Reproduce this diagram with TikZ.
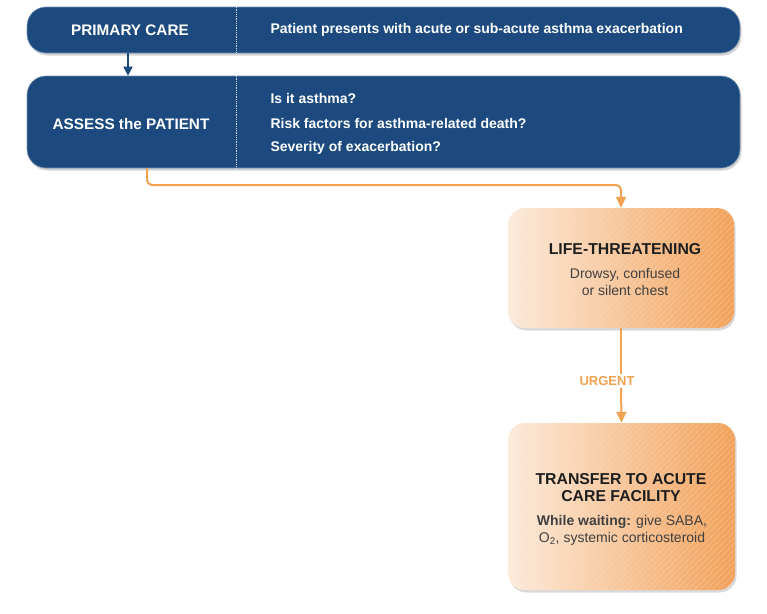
\documentclass[tikz,border=0pt]{standalone}
\usepackage{fontspec}
\setmainfont{Liberation Sans}
\usetikzlibrary{arrows.meta,shadows,patterns.meta}
\definecolor{navy}{HTML}{1D4A7E}
\definecolor{orangeline}{HTML}{F0A250}
\definecolor{orlight}{HTML}{FCEBDC}
\definecolor{ordark}{HTML}{F2A15A}
\definecolor{darktext}{HTML}{1E1E1E}
\tikzset{
  x=1pt,y=-1pt,
  bluebox/.style={rectangle, rounded corners=19pt, fill=navy, inner sep=0pt,
    draw=navy!60!white, line width=0.6pt,
    drop shadow={shadow xshift=1.5pt, shadow yshift=-2.5pt, opacity=0.35, fill=gray}},
  orbox/.style={rectangle, rounded corners=17pt, inner sep=0pt,
    left color=orlight, right color=ordark,
    drop shadow={shadow xshift=1.5pt, shadow yshift=-2.5pt, opacity=0.3, fill=gray},
    postaction={pattern={Lines[angle=45,distance=4pt,line width=0.7pt]}, pattern color=white!80!orange, opacity=0.35}},
  divider/.style={white!80!navy, densely dotted, line width=0.8pt},
  whitehead/.style={font=\bfseries\fontsize{15.3}{17}\selectfont, text=white},
  whitetext/.style={font=\bfseries\fontsize{14}{16}\selectfont, text=white, anchor=west},
  blackhead/.style={font=\bfseries\fontsize{15.8}{17}\selectfont, text=darktext, align=center},
  greytext/.style={font=\fontsize{14}{17}\selectfont, text=darktext!85, align=center},
  bluearrow/.style={draw=navy, line width=1.8pt, -{Triangle[width=9pt,length=9pt]}},
  orline/.style={draw=orangeline, line width=2pt},
  orarrow/.style={orline, -{Triangle[width=10pt,length=11pt]}},
}
\begin{document}
\begin{tikzpicture}
\useasboundingbox (0,0) rectangle (767,613);
% boxes
\node[bluebox, minimum width=713pt, minimum height=46pt] (primary) at (383.5,30) {};
\node[bluebox, minimum width=713pt, minimum height=92pt] (assess) at (383.5,122) {};
\node[orbox, minimum width=226pt, minimum height=120pt] (life) at (621,268) {};
\node[orbox, minimum width=227pt, minimum height=167pt] (transfer) at (621.5,506.5) {};
% dividers
\draw[divider] (primary.north -| 236,0) -- (primary.south -| 236,0);
\draw[divider] (assess.north -| 236,0) -- (assess.south -| 236,0);
% blue texts
\node[whitehead] (pc) at (130,30) {PRIMARY CARE};
\node[whitetext] (pt) at (267,30) {Patient presents with acute or sub-acute asthma exacerbation};
\node[whitehead] (ap) at (131,124) {ASSESS the PATIENT};
\node[whitetext] (q1) at (267,98) {Is it asthma?};
\node[whitetext] (q2) at (267,123) {Risk factors for asthma-related death?};
\node[whitetext] (q3) at (267,148) {Severity of exacerbation?};
% orange texts
\node[blackhead] (lt) at (625,249) {LIFE-THREATENING};
\node[greytext] (ltd) at (625,282) {Drowsy, confused\\or silent chest};
\node[blackhead] (tr) at (621,488) {TRANSFER TO ACUTE\\CARE FACILITY};
\node[greytext] (ww) at (622,530) {\textbf{While waiting:} give SABA,\\O\textsubscript{2}, systemic corticosteroid};
\node[font=\bfseries\fontsize{13}{14}\selectfont, text=orangeline, inner sep=2pt] (urg) at (607,381) {URGENT};
% connectors
\coordinate (bend) at (147,185);
\draw[bluearrow] (primary.south -| 128,0) -- (assess.north -| 128,0);
\draw[orarrow, rounded corners=5pt] (assess.south -| bend) -- (bend) -| (life.north);
\draw[orline] (life.south) -- (life.south |- urg.north);
\draw[orarrow] (life.south |- urg.south) -- (transfer.north);
\end{tikzpicture}
\end{document}
